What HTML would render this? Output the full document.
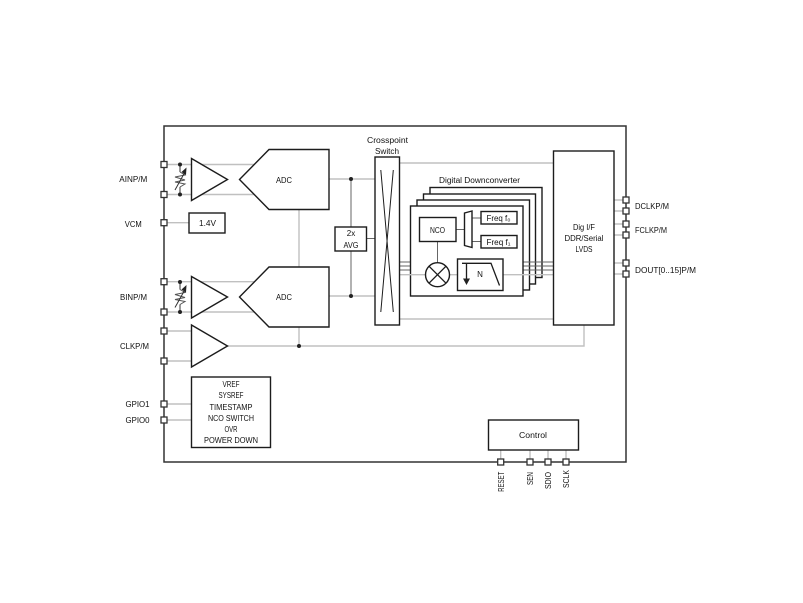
<!DOCTYPE html>
<html><head><meta charset="utf-8"><style>
html,body{margin:0;padding:0;background:#fff}
svg{display:block}
text{font-family:"Liberation Sans",sans-serif;font-size:8px;fill:#111;text-anchor:middle}
.g{stroke:#c0c0c0;stroke-width:1.4;fill:none}
.m{stroke:#666;stroke-width:1;fill:none}
.b{stroke:#1c1c1c;stroke-width:1.4;fill:#fff}
.o{stroke:#1c1c1c;stroke-width:1.3;fill:none}
.p{stroke:#333;stroke-width:1.3;fill:#fff}
.s{text-anchor:start}
</style></head><body>
<svg width="803" height="603" viewBox="0 0 803 603" xmlns="http://www.w3.org/2000/svg">
<rect x="164" y="126" width="462" height="336" fill="#fff" stroke="#333" stroke-width="1.5"/>
<!-- grey wires -->
<path class="g" d="M164 164.500H262M164 194.500H262M164 222.700H189M164 281.700H262M164 312H262M164 331H191M164 361H191M164 404H191M164 420H191M299 209V267M299 327V346M227 346H584V325M329 179H375M329 296H375M399 163H553M399 319H553M614 200H626M614 211H626M614 224H626M614 235H626M614 263H626M614 274H626M500.700 450V462M530 450V462M548 450V462M566 450V462"/>
<path class="m" d="M366 238.500H375M351 179V227M351 251V296M399 262H411M399 266H411M399 270H411"/>
<!-- stacked DDC -->
<rect class="b" x="430" y="187.500" width="112" height="90"/>
<rect class="b" x="423.500" y="194" width="112" height="90"/>
<rect class="b" x="417" y="200" width="112.500" height="90"/>
<path class="m" d="M523 262H553M523 266H553M523 270H553"/>
<rect class="b" x="410.500" y="206" width="112.500" height="90"/>
<path class="g" d="M503 274.700H553M399 274.700H425M449 274.700H457"/>
<path class="m" d="M456 229.500H464M472 218H481M472 241.500H481M437.500 241.500V262.500"/>
<rect class="b" x="419.500" y="217.500" width="36.500" height="24"/>
<text x="437.500" y="233" textLength="15" lengthAdjust="spacingAndGlyphs">NCO</text>
<path class="b" d="M464.500 213L472 211V247.500L464.500 245.500Z"/>
<rect class="b" x="481" y="211.500" width="36" height="12.500"/>
<text x="498.500" y="221" textLength="24" lengthAdjust="spacingAndGlyphs">Freq f₀</text>
<rect class="b" x="481" y="235.500" width="36" height="12.500"/>
<text x="498.500" y="245" textLength="24" lengthAdjust="spacingAndGlyphs">Freq f₁</text>
<circle class="b" cx="437.500" cy="274.700" r="12"/>
<path class="o" d="M429 266.200L446 283.200M446 266.200L429 283.200"/>
<rect class="b" x="457.500" y="259" width="45.500" height="31.500"/>
<path class="o" d="M462 263.300H491L499.500 285.500M466.500 264V279"/>
<path d="M463 278.500H470L466.500 285Z" fill="#222"/>
<text x="480" y="277">N</text>
<text x="479.500" y="183" textLength="81" lengthAdjust="spacingAndGlyphs">Digital Downconverter</text>
<!-- Switch -->
<rect class="b" x="375" y="157" width="24.500" height="168"/>
<path class="o" d="M380.800 170L393.300 312M393.300 170L380.800 312" style="stroke-width:1"/>
<text x="387.500" y="143" textLength="41" lengthAdjust="spacingAndGlyphs">Crosspoint</text>
<text x="387" y="154" textLength="24" lengthAdjust="spacingAndGlyphs">Switch</text>
<rect class="b" x="335" y="227" width="31.500" height="24"/>
<text x="351" y="236">2x</text>
<text x="351" y="248" textLength="15" lengthAdjust="spacingAndGlyphs">AVG</text>
<circle cx="351" cy="179" r="2" fill="#222"/><circle cx="351" cy="296" r="2" fill="#222"/><circle cx="299" cy="346" r="2" fill="#222"/>
<!-- amps -->
<path class="b" d="M191.500 158.500L227.500 179.500L191.500 200.500Z"/>
<path class="b" d="M191.500 276.500L227.500 297L191.500 318Z"/>
<path class="b" d="M191.500 325L227.500 346L191.500 367Z"/>
<!-- ADC -->
<path class="b" d="M239.500 179.500L269 149.500H329V209.500H269Z"/>
<path class="b" d="M239.500 297L269 267H329V327H269Z"/>
<text x="284" y="183" textLength="16" lengthAdjust="spacingAndGlyphs">ADC</text>
<text x="284" y="300" textLength="16" lengthAdjust="spacingAndGlyphs">ADC</text>
<!-- VCM -->
<rect class="b" x="189" y="213" width="36" height="20"/>
<text x="207.500" y="226" textLength="17" lengthAdjust="spacingAndGlyphs">1.4V</text>
<!-- resistors -->
<g>
<path d="M180 164.500V172M180 187V194.500" fill="none" stroke="#333"/>
<path d="M180 172L185 175L175 177L185 180L175 182L185 184L180 187" fill="none" stroke="#555" stroke-width="1"/>
<path d="M175 190L185 172" stroke="#333" stroke-width="1" fill="none"/>
<path d="M186.500 167.500L186 175L181.500 172Z" fill="#222"/>
<circle cx="180" cy="164.500" r="2" fill="#222"/><circle cx="180" cy="194.500" r="2" fill="#222"/>
</g>
<g transform="translate(0,117.500)">
<path d="M180 164.500V172M180 187V194.500" fill="none" stroke="#333"/>
<path d="M180 172L185 175L175 177L185 180L175 182L185 184L180 187" fill="none" stroke="#555" stroke-width="1"/>
<path d="M175 190L185 172" stroke="#333" stroke-width="1" fill="none"/>
<path d="M186.500 167.500L186 175L181.500 172Z" fill="#222"/>
<circle cx="180" cy="164.500" r="2" fill="#222"/><circle cx="180" cy="194.500" r="2" fill="#222"/>
</g>
<!-- GPIO box -->
<rect class="b" x="191.500" y="377" width="79" height="70.500"/>
<text x="231" y="387" textLength="17" lengthAdjust="spacingAndGlyphs">VREF</text>
<text x="231" y="398" textLength="25" lengthAdjust="spacingAndGlyphs">SYSREF</text>
<text x="231" y="410" textLength="43" lengthAdjust="spacingAndGlyphs">TIMESTAMP</text>
<text x="231" y="421" textLength="46" lengthAdjust="spacingAndGlyphs">NCO SWITCH</text>
<text x="231" y="432" textLength="13" lengthAdjust="spacingAndGlyphs">OVR</text>
<text x="231" y="443" textLength="54" lengthAdjust="spacingAndGlyphs">POWER DOWN</text>
<!-- Dig IF -->
<rect class="b" x="553.500" y="151" width="60.500" height="174"/>
<text x="584" y="230" textLength="22" lengthAdjust="spacingAndGlyphs">Dig I/F</text>
<text x="584" y="241" textLength="39" lengthAdjust="spacingAndGlyphs">DDR/Serial</text>
<text x="584" y="252" textLength="17" lengthAdjust="spacingAndGlyphs">LVDS</text>
<!-- Control -->
<rect class="b" x="488.500" y="420" width="90" height="30"/>
<text x="533" y="438" textLength="28" lengthAdjust="spacingAndGlyphs">Control</text>
<!-- pins -->
<g class="p">
<rect x="161" y="161.500" width="6" height="6"/><rect x="161" y="191.500" width="6" height="6"/>
<rect x="161" y="219.700" width="6" height="6"/><rect x="161" y="278.700" width="6" height="6"/>
<rect x="161" y="309" width="6" height="6"/><rect x="161" y="328" width="6" height="6"/>
<rect x="161" y="358" width="6" height="6"/><rect x="161" y="401" width="6" height="6"/>
<rect x="161" y="417" width="6" height="6"/>
<rect x="623" y="197" width="6" height="6"/><rect x="623" y="208" width="6" height="6"/>
<rect x="623" y="221" width="6" height="6"/><rect x="623" y="232" width="6" height="6"/>
<rect x="623" y="260" width="6" height="6"/><rect x="623" y="271" width="6" height="6"/>
<rect x="497.700" y="459" width="6" height="6"/><rect x="527" y="459" width="6" height="6"/>
<rect x="545" y="459" width="6" height="6"/><rect x="563" y="459" width="6" height="6"/>
</g>
<!-- labels -->
<text x="133.300" y="182" textLength="28" lengthAdjust="spacingAndGlyphs">AINP/M</text>
<text x="133.300" y="227" textLength="17" lengthAdjust="spacingAndGlyphs">VCM</text>
<text x="133.500" y="300" textLength="27" lengthAdjust="spacingAndGlyphs">BINP/M</text>
<text x="134.500" y="349" textLength="29" lengthAdjust="spacingAndGlyphs">CLKP/M</text>
<text x="137.500" y="407" textLength="24" lengthAdjust="spacingAndGlyphs">GPIO1</text>
<text x="137.500" y="423" textLength="24" lengthAdjust="spacingAndGlyphs">GPIO0</text>
<text class="s" x="635" y="209" textLength="34" lengthAdjust="spacingAndGlyphs">DCLKP/M</text>
<text class="s" x="635" y="233" textLength="32" lengthAdjust="spacingAndGlyphs">FCLKP/M</text>
<text class="s" x="635" y="273" textLength="61" lengthAdjust="spacingAndGlyphs">DOUT[0..15]P/M</text>
<text class="s" transform="translate(504,491.700) rotate(-90)" textLength="20" lengthAdjust="spacingAndGlyphs">RESET</text>
<text class="s" transform="translate(533,485) rotate(-90)" textLength="13" lengthAdjust="spacingAndGlyphs">SEN</text>
<text class="s" transform="translate(551,489) rotate(-90)" textLength="17" lengthAdjust="spacingAndGlyphs">SDIO</text>
<text class="s" transform="translate(569,488) rotate(-90)" textLength="18" lengthAdjust="spacingAndGlyphs">SCLK</text>
</svg>
</body></html>
